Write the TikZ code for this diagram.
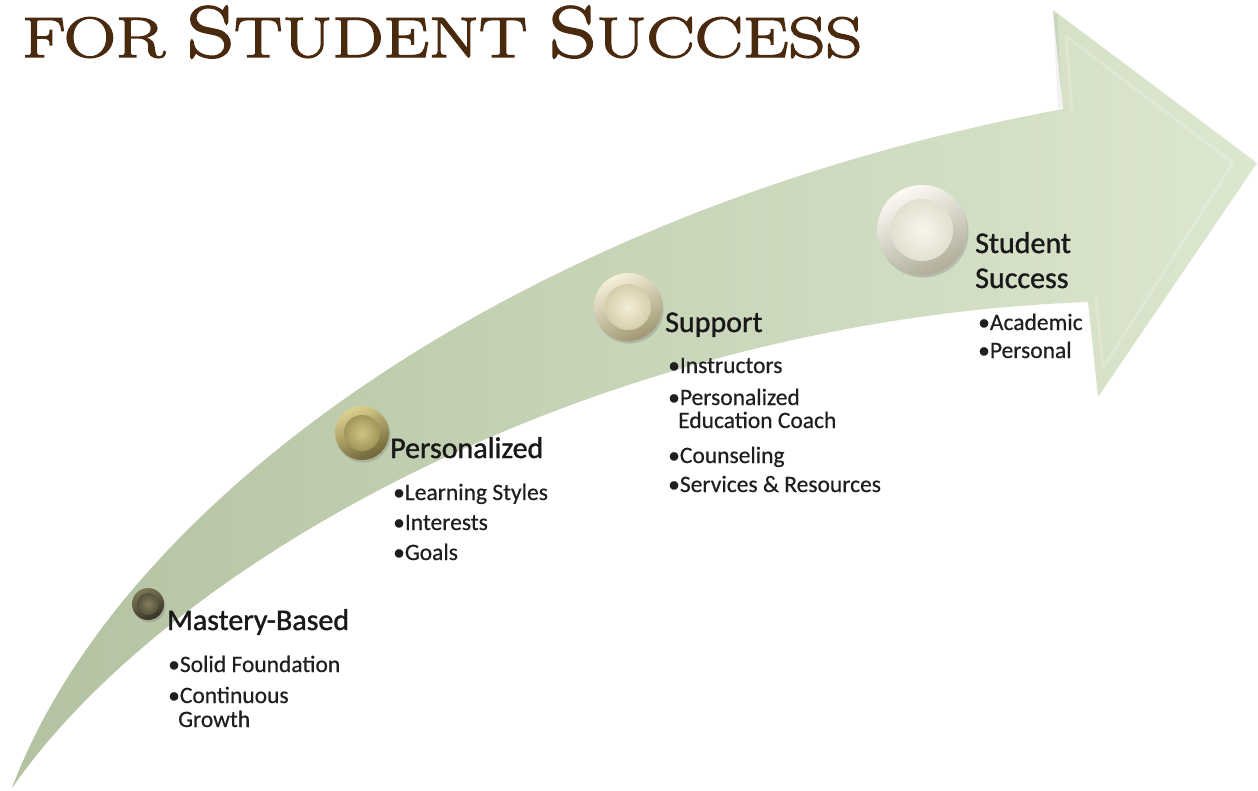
\documentclass[tikz,border=0pt]{standalone}
\usepackage{fontspec}
\usepackage{graphicx}
\usetikzlibrary{shadows}
\newfontfamily\carl{Carlito}[FakeBold=0.5]
\newfontfamily\carlh{Carlito}[FakeBold=1.2]
\newfontfamily\ttlfont{Latin Modern Roman}[FakeBold=2.2]
\definecolor{arrL}{HTML}{B3C2A1}
\definecolor{arrM}{HTML}{CCD9BE}
\definecolor{arrR}{HTML}{DCE7CF}
\definecolor{titlec}{HTML}{4A2A0E}
\definecolor{mRimT}{HTML}{7E7858}
\definecolor{mRimB}{HTML}{363224}
\definecolor{mIn}{HTML}{857E60}
\definecolor{mOut}{HTML}{57513C}
\definecolor{pRimT}{HTML}{DCD290}
\definecolor{pRimB}{HTML}{6E6436}
\definecolor{pIn}{HTML}{CFC684}
\definecolor{pOut}{HTML}{A0965A}
\definecolor{sRimT}{HTML}{F6F0DC}
\definecolor{sRimB}{HTML}{A09670}
\definecolor{sIn}{HTML}{F4EED8}
\definecolor{sOut}{HTML}{D6CEAA}
\definecolor{uRimT}{HTML}{FCFAF4}
\definecolor{uRimB}{HTML}{B0AC98}
\definecolor{uIn}{HTML}{F7F5EC}
\definecolor{uOut}{HTML}{E4E0D0}
\newcommand\tsc[1]{{\fontsize{57}{57}\selectfont #1}}
\newcommand\tcap[1]{{\fontsize{73}{73}\selectfont #1}}
\newcommand\titletext{\resizebox{840pt}{51pt}{\ttlfont\tsc{FOR}\tsc{ }\tcap{S}\tsc{TUDENT}\tsc{ }\tcap{S}\tsc{UCCESS}}}
\tikzset{
  head/.style={font=\carlh\fontsize{30}{36}\selectfont, text=black!90, anchor=base west, inner sep=0pt},
  item/.style={font=\carl\fontsize{23.5}{28}\selectfont, text=black!88, anchor=base west, inner sep=0pt},
  btnrim/.style={circle, inner sep=0pt, minimum size=#1, drop shadow={shadow xshift=1.5pt, shadow yshift=-2.5pt, opacity=0.35}},
  btnin/.style={circle, inner sep=0pt, minimum size=#1},
  ttl/.style={inner sep=0pt, anchor=base west},
}
\begin{document}
\begin{tikzpicture}[x=1pt, y=-1pt]
\useasboundingbox (0,0) rectangle (1258,790);
\fill[white] (0,0) rectangle (1258,790);
% arrow
\shade[left color=arrL, middle color=arrM, right color=arrR]
 (12,788) .. controls (120,500) and (520,210) .. (1063,109)
 -- (1053,10) -- (1257,163) -- (1098,397) -- (1088,302)
 .. controls (600,320) and (170,560) .. (12,788) -- cycle;
% bevel of arrow head
\draw[white, opacity=0.2, line width=3pt, line join=round] (1072,112) -- (1066,36) -- (1233,163) -- (1103,368) -- (1096,298);
\draw[black, opacity=0.05, line width=4pt, line join=round] (1060,108) -- (1055,14);
% title
\node[ttl, text=titlec] (title) at (22,57) {\titletext};
% buttons
\node[btnrim=32pt, top color=mRimT, bottom color=mRimB, shading angle=25] (b1) at (148,604) {};
\node[btnin=22pt, inner color=mIn, outer color=mOut] (b1i) at (b1.center) {};
\node[btnrim=54pt, top color=pRimT, bottom color=pRimB, shading angle=25] (b2) at (362,433) {};
\node[btnin=36pt, inner color=pIn, outer color=pOut] (b2i) at (b2.center) {};
\node[btnrim=68pt, top color=sRimT, bottom color=sRimB, shading angle=25] (b3) at (628,307) {};
\node[btnin=46pt, inner color=sIn, outer color=sOut] (b3i) at (b3.center) {};
\node[btnrim=90pt, top color=uRimT, bottom color=uRimB, shading angle=25] (b4) at (922,230) {};
\node[btnin=62pt, inner color=uIn, outer color=uOut] (b4i) at (b4.center) {};
% Mastery-Based
\node[head] (h1) at (167,630) {Mastery-Based};
\node[item] (i11) at (168,672) {•Solid Foundation};
\node[item] (i12) at (168,703) {•Continuous};
\node[item] (i13) at (178,727) {Growth};
% Personalized
\node[head] (h2) at (390,458) {Personalized};
\node[item] (i21) at (393,500) {•Learning Styles};
\node[item] (i22) at (393,530) {•Interests};
\node[item] (i23) at (393,560) {•Goals};
% Support
\node[head] (h3) at (665,332) {Support};
\node[item] (i31) at (668,373) {•Instructors};
\node[item] (i32) at (668,405) {•Personalized};
\node[item] (i33) at (678,428) {Education Coach};
\node[item] (i34) at (668,463) {•Counseling};
\node[item] (i35) at (668,492) {•Services \& Resources};
% Student Success
\node[head] (h4) at (975,253) {Student};
\node[head] (h4b) at (975,288) {Success};
\node[item] (i41) at (978,330) {•Academic};
\node[item] (i42) at (978,358) {•Personal};
\end{tikzpicture}
\end{document}
